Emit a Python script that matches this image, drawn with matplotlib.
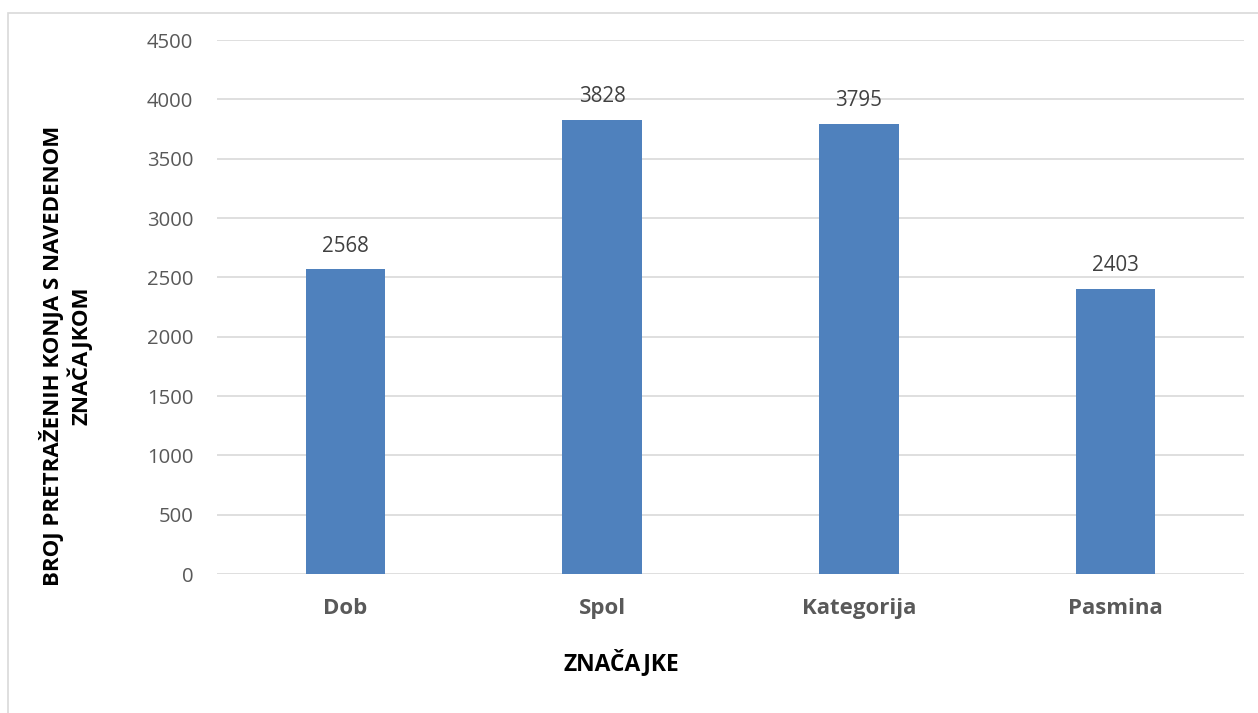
import matplotlib
matplotlib.use("Agg")
import matplotlib.pyplot as plt
from matplotlib.patches import Rectangle

categories = ["Dob", "Spol", "Kategorija", "Pasmina"]
values = [2568, 3828, 3795, 2403]
yticks = [0, 500, 1000, 1500, 2000, 2500, 3000, 3500, 4000, 4500]

plt.rcParams['font.family'] = ['Open Sans', 'DejaVu Sans']

W, H = 1258, 713
fig = plt.figure(figsize=(W/100, H/100), dpi=100)
fig.patch.set_facecolor('white')
fig.patches.append(Rectangle((8/W, -0.05), 1.2, 1 - 13/H + 0.05, transform=fig.transFigure,
                             fill=False, edgecolor='#d9d9d9', linewidth=1.2))

ax = fig.add_axes([217/W, 1 - 574/H, (1244-217)/W, (574-40)/H])
x = range(len(categories))
ax.bar(x, values, width=0.31, color='#4f81bd', zorder=3)
for xi, v in zip(x, values):
    ax.annotate(str(v), (xi, v), xytext=(0, 9), textcoords='offset points',
                ha='center', va='bottom', fontsize=14.8, color='#404040')

ax.set_xlim(-0.5, len(categories) - 0.5)
ax.set_ylim(0, 4500)
ax.set_yticks(yticks)
ax.yaxis.grid(True, color='#d9d9d9', linewidth=1.2, zorder=0)
for s in ax.spines.values():
    s.set_visible(False)
ax.tick_params(axis='both', length=0)
ax.tick_params(axis='y', labelsize=14.6, labelcolor='#595959', pad=17)
ax.set_xticks(list(x))
ax.set_xticklabels(categories, fontsize=16, fontweight='bold', color='#595959')
ax.tick_params(axis='x', pad=17)

fig.text(621/W, 1 - 663/H, "ZNAČAJKE", ha='center', va='center', fontsize=16.5,
         fontweight='bold', color='black')
fig.text(66/W, 1 - 356/H, "BROJ PRETRAŽENIH KONJA S NAVEDENOM\nZNAČAJKOM", ha='center', va='center',
         rotation=90, fontsize=16, fontweight='bold', color='black', linespacing=1.15)

fig.savefig("out.png", dpi=100, facecolor='white')
